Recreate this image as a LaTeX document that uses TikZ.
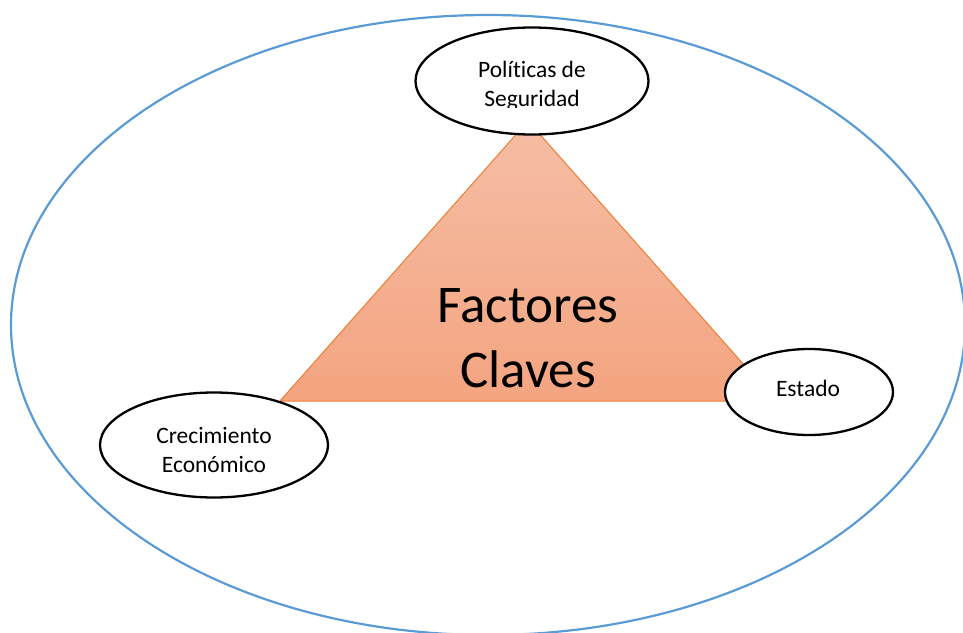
\documentclass[tikz,border=0pt]{standalone}
\usepackage{fontspec}
\setmainfont[Ligatures=NoCommon]{Carlito}
\usetikzlibrary{shapes.geometric}
\definecolor{bluering}{RGB}{91,155,213}
\definecolor{triedge}{RGB}{237,125,49}
\definecolor{tritop}{RGB}{245,190,165}
\definecolor{tribot}{RGB}{244,164,128}
\tikzset{
  factor/.style={ellipse, draw=black, line width=2.3pt, fill=white, inner sep=0pt},
  factortext/.style={align=center, inner sep=0pt, font=\fontsize{23.5}{29}\selectfont},
  bigtext/.style={align=center, inner sep=0pt, font=\fontsize{53}{65}\selectfont},
}
\begin{document}
\begin{tikzpicture}[x=1pt,y=-1pt]
\useasboundingbox (0,0) rectangle (963,632);
\begin{scope}
  \clip (0,0) rectangle (963,632);
  \draw[bluering, line width=2.2pt] (488,325) ellipse [x radius=477, y radius=310];
\end{scope}
\coordinate (apex) at (528,121);
\coordinate (bl) at (280,401);
\coordinate (br) at (776,401);
\shade[top color=tritop, bottom color=tribot] (apex) -- (bl) -- (br) -- cycle;
\draw[triedge, line width=1pt] (apex) -- (bl) -- (br) -- cycle;
\node[bigtext] (fc) at (528,338) {Factores\\Claves};
\node[factor, minimum width=233pt, minimum height=107pt] (pol) at (532,81) {};
\node[factor, minimum width=168pt, minimum height=86pt] (est) at (809,392) {};
\node[factor, minimum width=228pt, minimum height=105pt] (cre) at (214,445) {};
\begin{scope}
  \clip (400,20) rectangle (660,107);
  \node[factortext] (poltext) at (532,86) {Políticas de\\Seguridad};
\end{scope}
\node[factortext] (esttext) at (808,388) {Estado};
\node[factortext] (cretext) at (214,449.5) {Crecimiento\\Económico};
\end{tikzpicture}
\end{document}
